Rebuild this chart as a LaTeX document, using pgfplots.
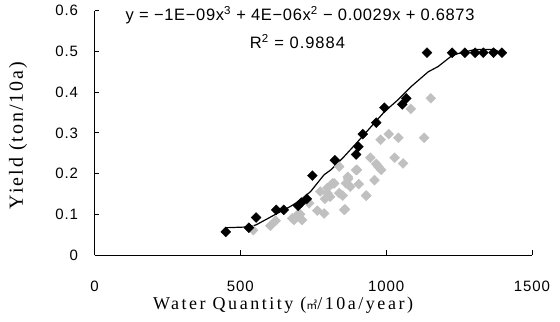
\documentclass[border=0pt]{standalone}
\usepackage{fontspec}
\setmainfont{Liberation Serif}
\setsansfont{Liberation Sans}
\newfontfamily\cjk{Noto Sans CJK KR}
\usepackage{pgfplots}
\pgfplotsset{compat=1.18}
\definecolor{lgray}{RGB}{192,192,192}
\begin{document}
\begin{tikzpicture}
\useasboundingbox (0,0) rectangle (560bp,322bp);
\begin{axis}[
  at={(94.5bp,67bp)}, anchor=south west,
  scale only axis, width=437.5bp, height=244.2bp,
  xmin=0, xmax=1500, ymin=0, ymax=0.6,
  axis lines=left, axis line style={-, line width=0.8pt},
  tick align=inside, major tick length=5bp,
  tick style={black, line width=0.8pt},
  xtick={0,500,1000,1500}, xticklabels={0,500,1000,1500},
  ytick={0,0.1,0.2,0.3,0.4,0.5,0.6}, yticklabels={0,0.1,0.2,0.3,0.4,0.5,0.6},
  ticklabel style={font=\sffamily\fontsize{15bp}{17bp}\selectfont\addfontfeatures{LetterSpace=6}},
  xticklabel style={yshift=-23bp},
  yticklabel style={xshift=-13bp},
  xlabel={Water Quantity ({\cjk\fontsize{11bp}{12bp}\selectfont ㎥}/10a/year)},
  ylabel={Yield (ton/10a)},
  xlabel style={font=\fontsize{18bp}{20bp}\selectfont\addfontfeatures{LetterSpace=14}, at={(rel axis cs:0.431,0)}, anchor=center, yshift=-50bp},
  ylabel style={font=\fontsize{20bp}{22bp}\selectfont\addfontfeatures{LetterSpace=10}, at={(rel axis cs:0,0.49)}, anchor=center, yshift=76.5bp},
  clip=false,
]
\addplot[only marks, mark=square*, mark size=3.5bp, color=lgray, mark options={rotate=45, fill=lgray, draw=lgray}] coordinates {
(544,0.061) (603,0.072) (621,0.084) (678,0.090) (684,0.086) (695,0.098) (705,0.100) (712,0.086)
(736,0.127) (764,0.109) (787,0.102) (774,0.156) (790,0.138) (799,0.165) (808,0.143) (822,0.176)
(839,0.217) (851,0.146) (859,0.112) (862,0.176) (870,0.187) (877,0.168) (900,0.209) (906,0.174)
(932,0.146) (946,0.239) (960,0.184) (966,0.224) (973,0.217) (981,0.283) (983,0.209) (1009,0.297)
(1029,0.239) (1042,0.288) (1058,0.225) (1084,0.359) (1130,0.288) (1153,0.385)
(799,0.152) (816,0.176) (839,0.152) (868,0.192) (897,0.209) (931,0.146) (856,0.111)
};
\addplot[only marks, mark=square*, mark size=3.5bp, color=black, mark options={rotate=45, fill=black}] coordinates {
(450,0.057) (529,0.067) (554,0.092) (623,0.111) (649,0.111) (698,0.121) (709,0.129) (728,0.138)
(747,0.195) (824,0.233) (897,0.247) (905,0.266) (920,0.297) (966,0.325) (994,0.362) (1055,0.370)
(1069,0.385) (1140,0.497) (1226,0.497) (1270,0.497) (1305,0.497) (1333,0.497) (1368,0.497) (1397,0.497)
};
\addplot[black, line width=1.2pt, mark=none] coordinates {
(450,0.067) (529,0.069) (554,0.074) (626,0.102) (671,0.119) (707,0.135) (741,0.156) (787,0.197)
(810,0.209) (856,0.242) (902,0.278) (948,0.315) (994,0.352) (1040,0.381) (1086,0.414) (1144,0.450)
(1178,0.463) (1224,0.489) (1247,0.495) (1305,0.505) (1373,0.505) (1390,0.497)
};
\node[font=\sffamily\fontsize{16.5bp}{18bp}\selectfont\addfontfeatures{LetterSpace=4}, anchor=center] at (rel axis cs:0.470,0.983) {y = −1E−09x\textsuperscript{3} + 4E−06x\textsuperscript{2} − 0.0029x + 0.6873};
\node[font=\sffamily\fontsize{16.5bp}{18bp}\selectfont\addfontfeatures{LetterSpace=6}, anchor=center] at (rel axis cs:0.464,0.873) {R\textsuperscript{2} = 0.9884};
\end{axis}
\end{tikzpicture}
\end{document}
